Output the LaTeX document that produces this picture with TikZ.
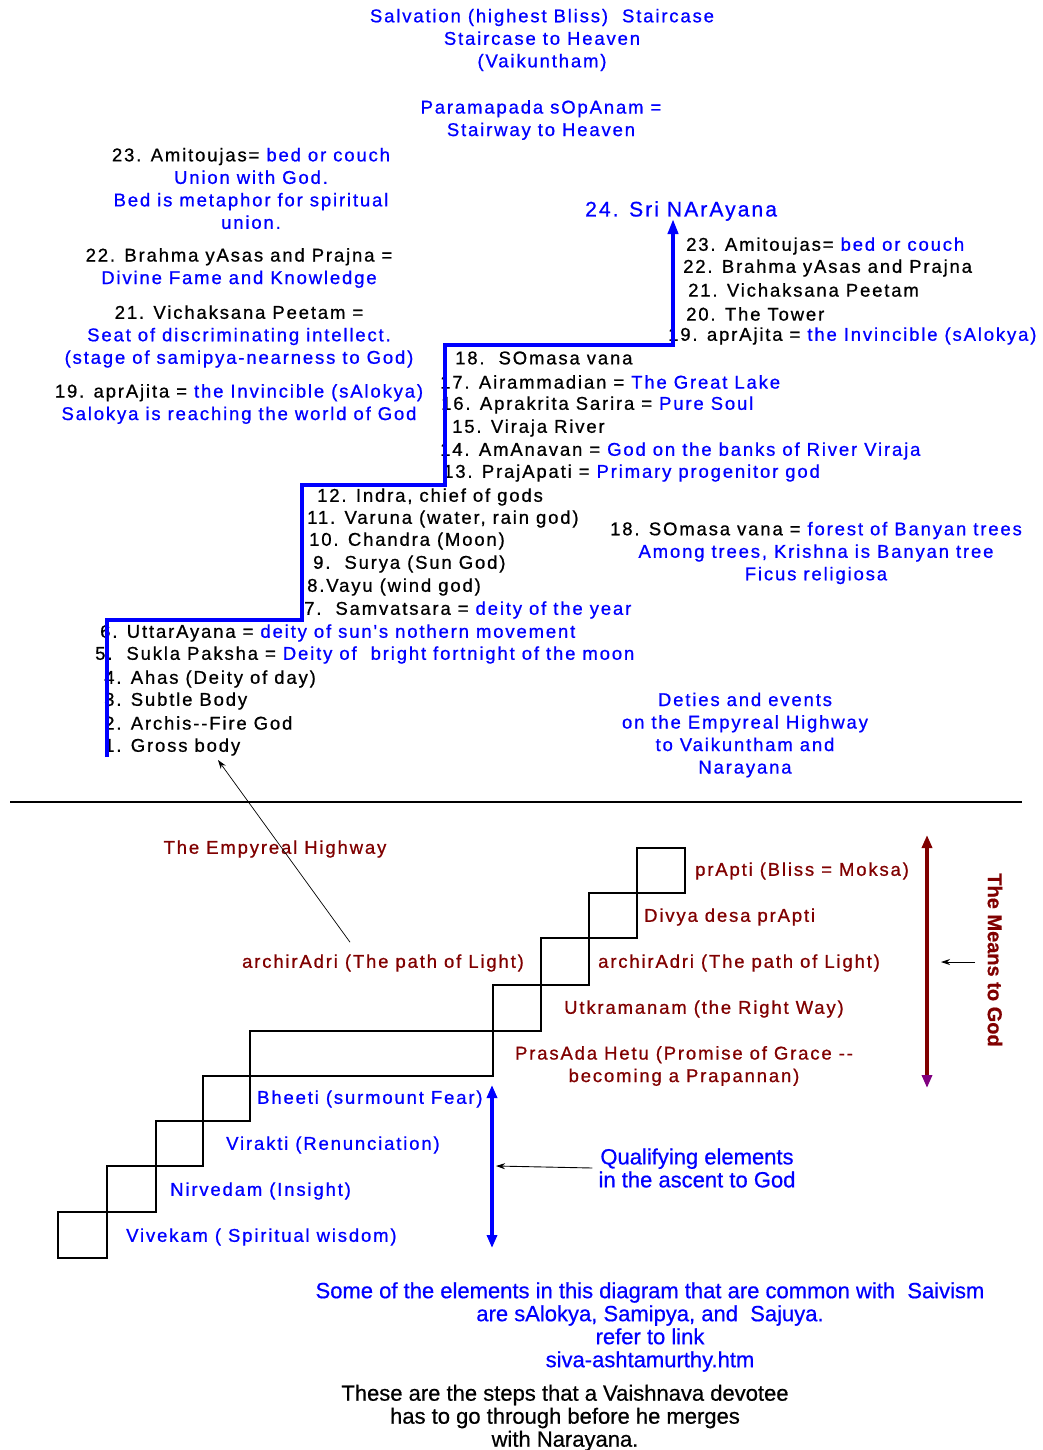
\documentclass[tikz,border=0pt]{standalone}
\usepackage{fontspec}
\usetikzlibrary{arrows.meta}
\newfontfamily\stairfont[LetterSpace=10,FakeBold=0.8]{Liberation Sans}
\newfontfamily\notefont[FakeBold=0.6]{Liberation Sans}
\definecolor{stblue}{HTML}{0000FF}
\definecolor{stred}{HTML}{800000}
\definecolor{stplum}{HTML}{800080}

\begin{document}
\begin{tikzpicture}[
  x=1pt, y=-1pt,
  font=\stairfont\fontsize{18.5}{22.5}\selectfont,
  every node/.style={inner sep=0pt},
  lbl/.style={anchor=west},
  blk/.style={align=center},
  note/.style={font=\notefont\fontsize{22}{23}\selectfont, align=center},
  stair/.style={stblue, line width=4.5pt},
  flight/.style={black, line width=1.2pt},
  ptr/.style={black, line width=0.9pt, -{Stealth[length=9pt,width=6pt]}},
]
\useasboundingbox (0,0) rectangle (1042,1450);

\node[blk, text=stblue] (title) at (542,40)
  {Salvation (highest Bliss)\ \ Staircase\\Staircase to Heaven\\(Vaikuntham)};
\node[blk, text=stblue] (sopanam) at (541,120)
  {Paramapada sOpAnam =\\Stairway to Heaven};

\node[blk, text=stblue] (bedL) at (251,188.5)
  {\textcolor{black}{23. Amitoujas=} bed or couch\\Union with God.\\Bed is metaphor for spiritual\\union.};
\node[blk] (fameL) at (239,268)
  {22. Brahma yAsas and Prajna =\\\textcolor{stblue}{Divine Fame and Knowledge}};
\node[blk] (seatL) at (239,336.5)
  {21. Vichaksana Peetam =\\\textcolor{stblue}{Seat of discriminating intellect.}\\\textcolor{stblue}{(stage of samipya-nearness to God)}};
\node[blk] (salokL) at (239,404)
  {19. aprAjita = \textcolor{stblue}{the Invincible (sAlokya)}\\\textcolor{stblue}{Salokya is reaching the world of God}};

\node[lbl, text=stblue, font=\stairfont\fontsize{21}{25}\selectfont] (narayana) at (585,211) {24. Sri NArAyana};

\node[lbl] (s23) at (686,246) {23. Amitoujas= \textcolor{stblue}{bed or couch}};
\node[lbl] (s22) at (683,268) {22. Brahma yAsas and Prajna};
\node[lbl] (s21) at (688,290) {21. Vichaksana Peetam};
\node[lbl] (s20) at (686,314) {20. The Tower};
\node[lbl] (s19) at (668,336) {19. aprAjita = \textcolor{stblue}{the Invincible (sAlokya)}};
\node[lbl] (s18) at (455,358) {18.\ \ SOmasa vana};
\node[lbl] (s17) at (440,382) {17. Airammadian = \textcolor{stblue}{The Great Lake}};
\node[lbl] (s16) at (441,405) {16. Aprakrita Sarira = \textcolor{stblue}{Pure Soul}};
\node[lbl] (s15) at (452,428) {15. Viraja River};
\node[lbl] (s14) at (440,451) {14. AmAnavan = \textcolor{stblue}{God on the banks of River Viraja}};
\node[lbl] (s13) at (443,473) {13. PrajApati = \textcolor{stblue}{Primary progenitor god}};
\node[lbl] (s12) at (317,497) {12. Indra, chief of gods};
\node[lbl] (s11) at (307,519) {11. Varuna (water, rain god)};
\node[lbl] (s10) at (309,541) {10. Chandra (Moon)};
\node[lbl] (s9) at (313,564) {9.\ \ Surya (Sun God)};
\node[lbl] (s8) at (307,587) {8.Vayu (wind god)};
\node[lbl] (s7) at (304,610) {7.\ \ Samvatsara = \textcolor{stblue}{deity of the year}};
\node[lbl] (s6) at (100,633) {6. UttarAyana = \textcolor{stblue}{deity of sun's nothern movement}};
\node[lbl] (s5) at (95,655) {5.\ \ Sukla Paksha = \textcolor{stblue}{Deity of\ \ bright fortnight of the moon}};
\node[lbl] (s4) at (104,679) {4. Ahas (Deity of day)};
\node[lbl] (s3) at (104,701) {3. Subtle Body};
\node[lbl] (s2) at (104,723) {2. Archis-{}-Fire God};
\node[lbl] (s1) at (104,747) {1. Gross body};

\node[blk] (banyan) at (816,553)
  {18. SOmasa vana = \textcolor{stblue}{forest of Banyan trees}\\\textcolor{stblue}{Among trees, Krishna is Banyan tree}\\\textcolor{stblue}{Ficus religiosa}};
\node[blk, text=stblue] (deties) at (745,735)
  {Deties and events\\on the Empyreal Highway\\to Vaikuntham and\\Narayana};

\draw[stair, -{Triangle[length=15pt,width=10pt]}]
  (107,757) |- (302,620) |- (445,485) |- (673,345) -- (673,219);

\draw[black, line width=1.2pt] (10,802) -- (1022,802);

\node[text=stred] (empyreal) at (275,849) {The Empyreal Highway};
\node[text=stred] (archL) at (383,963) {archirAdri (The path of Light)};

\node[lbl, text=stred] (prapti) at (695,871) {prApti (Bliss = Moksa)};
\node[lbl, text=stred] (divya) at (644,917) {Divya desa prApti};
\node[lbl, text=stred] (archR) at (598,963) {archirAdri (The path of Light)};
\node[lbl, text=stred] (utkram) at (564,1009) {Utkramanam (the Right Way)};
\node[blk, text=stred] (prasada) at (684,1066)
  {PrasAda Hetu (Promise of Grace -{}-\\becoming a Prapannan)};

\node[lbl, text=stblue] (bheeti) at (257,1099) {Bheeti (surmount Fear)};
\node[lbl, text=stblue] (virakti) at (226,1145) {Virakti (Renunciation)};
\node[lbl, text=stblue] (nirvedam) at (170,1191) {Nirvedam (Insight)};
\node[lbl, text=stblue] (vivekam) at (126,1237) {Vivekam ( Spiritual wisdom)};

\draw[flight] (58,1258) -| (107,1166) -| (203,1076) -| (493,985) -| (589,893)
  -| (685,848) -| (637,938) -| (541,1031) -| (250,1121) -| (156,1212) -| (58,1258) -- cycle;

\coordinate (grossTip) at (218,760);
\draw[ptr, line width=0.7pt] ([xshift=-33pt,yshift=12pt]archL.north) -- (grossTip);

\node[note, text=stblue] (qual) at (697,1168) {Qualifying elements\\in the ascent to God};
\coordinate (qTop) at (492,1085);
\coordinate (qBot) at (492,1248);
\coordinate (qHit) at (496,1166);
\draw[stblue, line width=4.5pt, {Triangle[length=13pt,width=10pt]}-{Triangle[length=13pt,width=10pt]}]
  (qTop) -- (qBot);
\draw[ptr] ([xshift=-6pt]qual.west) -- (qHit);

\node[text=stred, font=\notefont\bfseries\fontsize{20}{22}\selectfont, rotate=-90] (means) at (995,960) {The Means to God};
\coordinate (mTop) at (927,835);
\coordinate (mBot) at (927,1088);
\coordinate (mFrom) at (975,962);
\coordinate (mHit) at (941,962);
\draw[stred, line width=4.5pt, {Triangle[length=13pt,width=10pt,color=stplum]}-{Triangle[length=13pt,width=10pt]}]
  (mBot) -- (mTop);
\draw[ptr] (mFrom) -- (mHit);

\node[note, text=stblue] (saivism) at (650,1327)
  {Some of the elements in this diagram that are common with\ \ Saivism\\are sAlokya, Samipya, and\ \ Sajuya.\\refer to link\\siva-ashtamurthy.htm};
\node[note] (devotee) at (565,1418)
  {These are the steps that a Vaishnava devotee\\has to go through before he merges\\with Narayana.};

\end{tikzpicture}
\end{document}
